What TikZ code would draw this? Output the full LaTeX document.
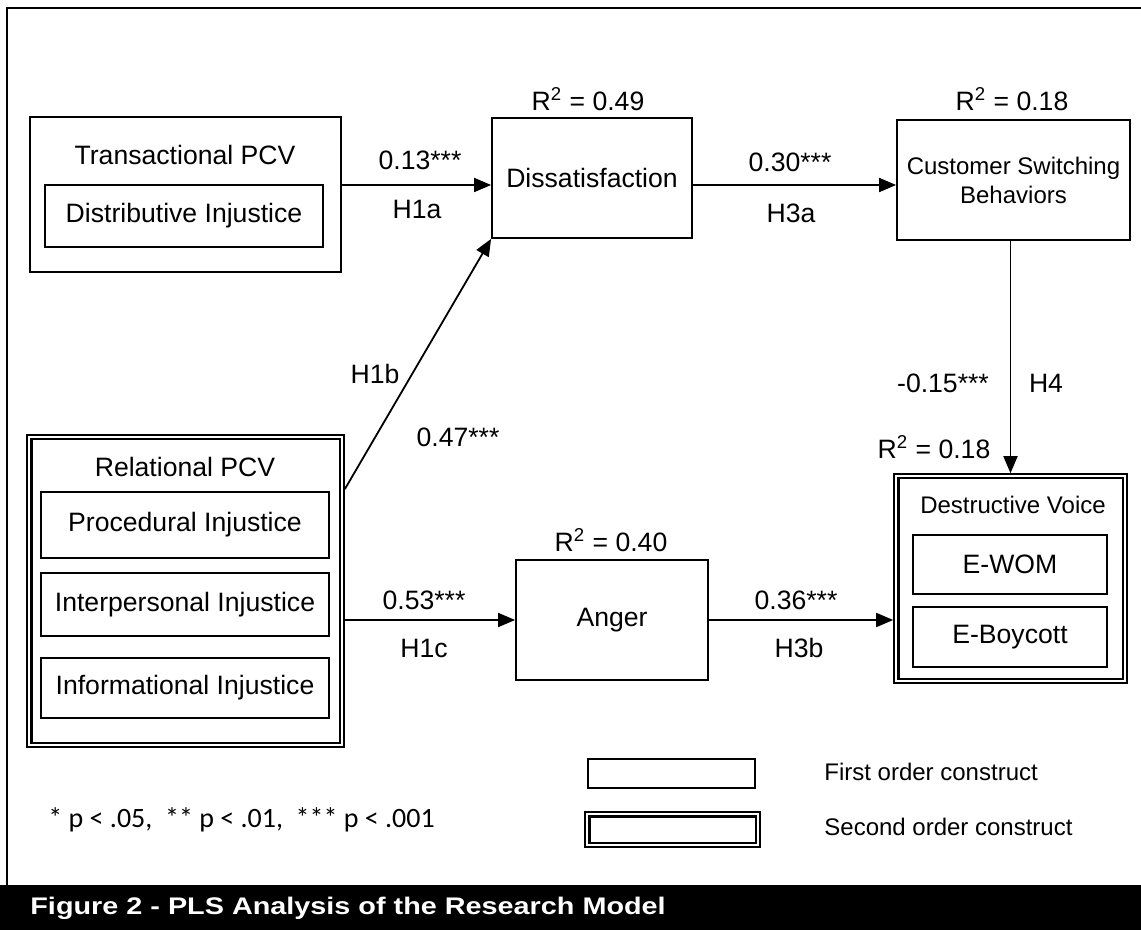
\documentclass[tikz,border=0pt]{standalone}
\usepackage{fontspec}
\setmainfont{Liberation Sans}
\newfontfamily\pfont{Carlito}
\newfontfamily\capfont[FakeStretch=1.2]{Liberation Sans Bold}
\usetikzlibrary{arrows.meta,calc}
\begin{document}
\begin{tikzpicture}[x=0.5pt,y=-0.5pt,
  every node/.style={font=\fontsize{13.3}{16}\selectfont, inner sep=0pt},
  small/.style={font=\fontsize{12}{14.5}\selectfont},
  box/.style={draw, line width=0.9pt},
  secondorder/.style={draw, line width=0.8pt,
    path picture={\draw[line width=1.3pt]
      ([shift={(2.1pt,-2.1pt)}]path picture bounding box.north west) rectangle
      ([shift={(-2.1pt,2.1pt)}]path picture bounding box.south east);}},
  arr/.style={-{Triangle[length=8.5pt,width=7pt]}, line width=0.9pt}]
\useasboundingbox (0,0) rectangle (1141,930);
% frame and caption bar
\draw[line width=1pt] (7,885) -- (7,8) -- (1141,8);
\fill[black] (0,885) rectangle (1141,930);
\node[anchor=west, text=white, font=\capfont\fontsize{12}{14}\selectfont] (cap) at (30,908) {Figure 2 - PLS Analysis of the Research Model};

% Transactional PCV
\node[box, minimum width=155.5pt, minimum height=77.5pt] (trans) at (185.5,194.5) {};
\node (transT) at (185,155) {Transactional PCV};
\node[box, minimum width=139pt, minimum height=31pt] (dist) at (184,216) {Distributive Injustice};

% Relational PCV
\node[secondorder, minimum width=158.5pt, minimum height=156pt] (rel) at (185.5,591) {};
\node (relT) at (185,467) {Relational PCV};
\node[box, minimum width=144pt, minimum height=33pt] (proc) at (185,525) {Procedural Injustice};
\node[box, minimum width=144pt, minimum height=31.5pt] (inter) at (185,604.5) {Interpersonal Injustice};
\node[box, minimum width=144pt, minimum height=30pt] (info) at (185,688) {Informational Injustice};

% Dissatisfaction, CSB, Anger
\node[box, minimum width=100pt, minimum height=60pt] (diss) at (592,178) {Dissatisfaction};
\node[box, small, align=center, minimum width=116.5pt, minimum height=60pt] (csb) at (1013.5,180) {Customer Switching\\Behaviors};
\node[box, minimum width=96pt, minimum height=60pt] (anger) at (612,620) {Anger};

% Destructive Voice
\node[secondorder, minimum width=116.5pt, minimum height=104.5pt] (dv) at (1010.5,578.5) {};
\node[small] (dvT) at (1013,505) {Destructive Voice};
\node[box, minimum width=97pt, minimum height=29.5pt] (ewom) at (1010,564.5) {E-WOM};
\node[box, minimum width=97pt, minimum height=30pt] (eboy) at (1010,637) {E-Boycott};

% R squared
\node (r1) at (588,99) {R\textsuperscript{2} = 0.49};
\node (r2) at (1012,99) {R\textsuperscript{2} = 0.18};
\node (r3) at (611,540) {R\textsuperscript{2} = 0.40};
\node (r4) at (934,447) {R\textsuperscript{2} = 0.18};

% arrows
\coordinate (a1) at ([yshift=4.75pt]trans.east);
\draw[arr] (a1) -- (a1 -| diss.west);
\coordinate (a2) at ([yshift=-27.5pt]rel.north east);
\draw[arr] (a2) -- (diss.south west);
\draw[arr] (anger.west -| rel.east) -- (anger.west);
\coordinate (a3) at ([yshift=-3.5pt]diss.east);
\draw[arr] (a3) -- (a3 -| csb.west);
\draw[arr] (dv.north |- csb.south) -- (dv.north);
\draw[arr] (anger.east) -- (anger.east -| dv.west);

% path labels
\node (c13) at (420,160) {0.13***};
\node (h1a) at (417,209) {H1a};
\node (c30) at (790,162) {0.30***};
\node (h3a) at (791,213) {H3a};
\node (h1b) at (375,374) {H1b};
\node (c47) at (458,437) {0.47***};
\node (c53) at (424,600) {0.53***};
\node (h1c) at (424,648) {H1c};
\node (c36) at (796,600) {0.36***};
\node (h3b) at (799,648) {H3b};
\node (c15) at (943,383) {-0.15***};
\node (h4) at (1046,383) {H4};

% legend
\node[box, minimum width=83.5pt, minimum height=14.5pt] (leg1) at (671.5,773.5) {};
\node[secondorder, minimum width=87.5pt, minimum height=17.5pt] (leg2) at (672.5,829.5) {};
\node[small, anchor=west] (leg1T) at (824,772) {First order construct};
\node[small, anchor=west] (leg2T) at (824,827) {Second order construct};
\node[anchor=west, font=\pfont\fontsize{14}{16}\selectfont] (pv) at (48,820) {* p < .05,\ \ ** p < .01,\ \ *** p < .001};
\end{tikzpicture}
\end{document}
